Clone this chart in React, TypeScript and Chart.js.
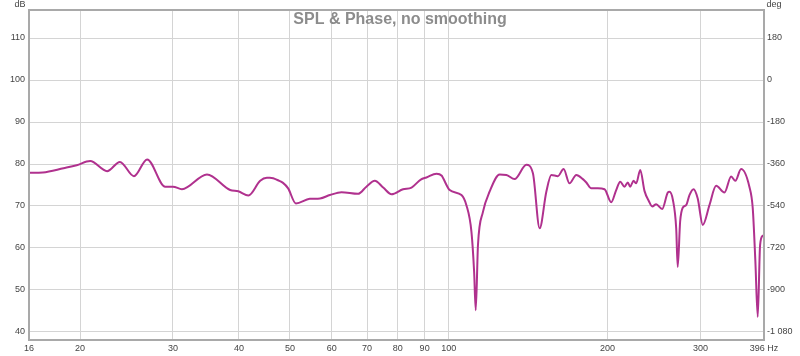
import React, { useEffect, useRef } from 'react';
import { Chart, registerables } from 'chart.js';

Chart.register(...registerables);

const freqHz = [
  16.0, 17.0, 18.6, 19.7, 20.9, 22.5, 23.8, 25.3, 26.8, 29.0, 30.0, 31.2, 34.8, 38.5, 39.9, 41.7,
  43.9, 45.2, 45.8, 47.7, 48.5, 49.6, 51.3, 54.5, 57.0, 59.5, 62.6, 67.3, 69.8, 72.4, 75.1, 77.9,
  81.9, 85.0, 88.5, 90.7, 94.8, 97.0, 97.6, 100.4, 105.7, 108.0, 110.4, 111.7, 112.5, 113.6, 116.1,
  119.5, 124.9, 128.6, 133.3, 140.3, 144.4, 148.7, 153.1, 156.5, 161.0, 165.1, 169.4, 174.5, 179.6,
  182.3, 186.3, 191.7, 197.4, 203.2, 207.7, 211.4, 215.4, 218.5, 220.8, 224.0, 226.7, 230.7, 235.0,
  239.5, 243.1, 247.3, 253.9, 260.2, 262.1, 266.0, 269.9, 271.7, 274.6, 277.7, 281.9, 286.0, 291.1,
  296.5, 303.1, 312.1, 321.3, 333.2, 343.1, 349.5, 358.3, 371.5, 377.0, 381.4, 385.3, 389.3, 393.7, 396.0,
];

const splDb = [
  77.9, 78.0, 79.0, 79.7, 80.7, 78.3, 80.5, 77.1, 81.1, 74.6, 74.6, 74.0, 77.5, 73.8, 73.5, 72.5,
  76.0, 76.7, 76.7, 76.0, 75.5, 74.2, 70.6, 71.7, 71.8, 72.6, 73.3, 72.9, 74.6, 76.0, 74.4, 72.8,
  74.0, 74.4, 76.3, 76.8, 77.7, 77.2, 76.6, 73.8, 72.6, 70.2, 63.9, 54.4, 45.2, 60.7, 68.6,
  73.4, 77.5, 77.4, 76.4, 79.8, 77.8, 64.7, 73.4, 77.4, 77.1, 78.8, 75.4, 77.4, 76.4,
  75.6, 74.2, 74.2, 74.0, 70.9, 73.8, 75.8, 74.6, 75.6, 74.6, 76.0, 75.4, 78.6, 73.6,
  71.2, 69.9, 70.4, 69.3, 73.2, 73.4, 71.5, 64.7, 55.5, 66.3, 69.6, 70.2, 72.6, 74.0,
  71.8, 65.5, 70.2, 74.8, 73.2, 77.0, 76.0, 78.8, 74.6, 69.5, 56.7, 43.6, 60.7, 62.9, 63.0,
];

const xTickValues = [16, 20, 30, 40, 50, 60, 70, 80, 90, 100, 200, 300, 396];
const xTickLabels = ['16', '20', '30', '40', '50', '60', '70', '80', '90', '100', '200', '300', '396 Hz'];
const dbTicks = [40, 50, 60, 70, 80, 90, 100, 110];
const degTicks = [180, 0, -180, -360, -540, -720, -900, -1080];
const degTickLabels = ['180', '0', '-180', '-360', '-540', '-720', '-900', '-1 080'];

const titleText = 'SPL & Phase, no smoothing';
const leftUnit = 'dB';
const rightUnit = 'deg';

const FONT = '"Liberation Sans", Arial, sans-serif';

export default function App() {
  const ref = useRef<HTMLCanvasElement | null>(null);

  useEffect(() => {
    if (!ref.current) return;
    const decor = {
      id: 'decor',
      beforeDatasetsDraw(chart: any) {
        const { ctx, chartArea } = chart;
        ctx.save();
        ctx.font = `bold 16px ${FONT}`;
        ctx.fillStyle = '#8c8c8c';
        ctx.textAlign = 'center';
        ctx.textBaseline = 'middle';
        ctx.fillText(titleText, 400, 20);
        ctx.restore();
      },
      afterDraw(chart: any) {
        const { ctx, chartArea } = chart;
        ctx.save();
        ctx.strokeStyle = '#a9a9a9';
        ctx.lineWidth = 2;
        ctx.strokeRect(chartArea.left, chartArea.top, chartArea.right - chartArea.left, chartArea.bottom - chartArea.top);
        ctx.font = `9px ${FONT}`;
        ctx.fillStyle = '#444';
        ctx.textBaseline = 'middle';
        ctx.textAlign = 'center';
        ctx.fillText(leftUnit, 20, 5);
        ctx.fillText(rightUnit, 774, 5);
        ctx.restore();
      },
    };

    const chart = new Chart(ref.current, {
      type: 'line',
      data: {
        datasets: [
          {
            data: freqHz.map((f, i) => ({ x: f, y: splDb[i] })),
            borderColor: '#b0318e',
            borderWidth: 2,
            pointRadius: 0,
            cubicInterpolationMode: 'monotone',
            fill: false,
            yAxisID: 'y',
          },
        ],
      },
      options: {
        animation: false,
        responsive: false,
        layout: { padding: { top: 10, left: 0, right: 0, bottom: 0 } },
        plugins: { legend: { display: false }, tooltip: { enabled: false }, title: { display: false } },
        scales: {
          x: {
            type: 'logarithmic',
            min: 16,
            max: 396,
            afterBuildTicks: (s: any) => {
              s.ticks = xTickValues.map((v) => ({ value: v }));
            },
            afterFit: (s: any) => {
              s.height = 16;
            },
            ticks: {
              autoSkip: false,
              maxRotation: 0,
              padding: 3,
              color: '#444',
              font: { family: FONT, size: 9 },
              callback: (_v: any, i: number) => xTickLabels[i],
            },
            grid: { color: '#d4d4d4', drawTicks: false },
            border: { display: false },
          },
          y: {
            type: 'linear',
            position: 'left',
            min: 38.095,
            max: 116.667,
            afterBuildTicks: (s: any) => {
              s.ticks = dbTicks.map((v) => ({ value: v }));
            },
            afterFit: (s: any) => {
              s.width = 29;
            },
            ticks: {
              padding: 4,
              color: '#444',
              font: { family: FONT, size: 9 },
              callback: (v: any) => String(v),
            },
            grid: { color: '#d4d4d4', drawTicks: false },
            border: { display: false },
          },
          y2: {
            type: 'linear',
            position: 'right',
            min: -1114.3,
            max: 300,
            afterBuildTicks: (s: any) => {
              s.ticks = degTicks.map((v) => ({ value: v }));
            },
            afterFit: (s: any) => {
              s.width = 36;
            },
            ticks: {
              padding: 3,
              color: '#444',
              font: { family: FONT, size: 9 },
              callback: (_v: any, i: number) => degTickLabels[i],
            },
            grid: { display: false, drawTicks: false },
            border: { display: false },
          },
        },
      },
      plugins: [decor],
    } as any);
    return () => chart.destroy();
  }, []);

  return (
    <div style={{ position: 'fixed', left: 0, top: 0, width: 800, height: 356, background: '#fff' }}>
      <canvas ref={ref} width={800} height={356} style={{ display: 'block' }} />
    </div>
  );
}
